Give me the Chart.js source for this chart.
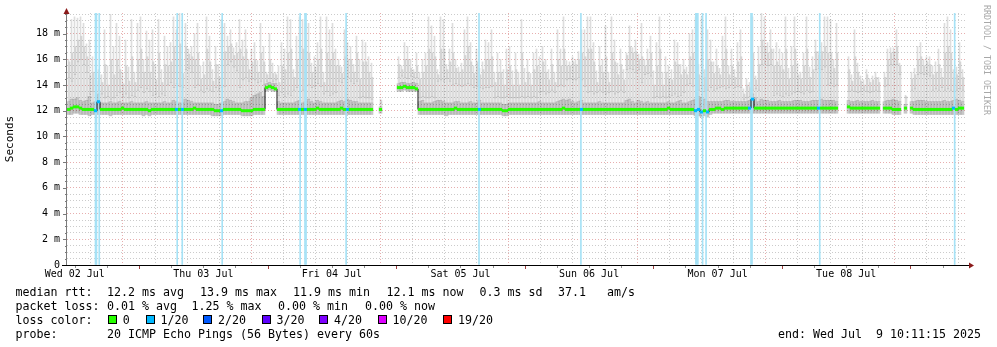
<!DOCTYPE html>
<html>
<head>
<meta charset="utf-8">
<script src="https://cdn.jsdelivr.net/npm/chart.js@4/dist/chart.umd.min.js"></script>
<style>
  html, body { margin: 0; padding: 0; background: #fff; }
  #wrap { position: relative; width: 997px; height: 347px; overflow: hidden; }
  #chart { position: absolute; left: 0; top: 0; }
  .t { position: absolute; font-family: "DejaVu Sans Mono", monospace; font-size: 11.63px;
       line-height: 14px; white-space: pre; color: #000; }
  .box { position: absolute; width: 7px; height: 7px; border: 1px solid #000; }
  #credit { position: absolute; left: 982px; top: 5px; writing-mode: vertical-rl;
            font-family: "DejaVu Sans Mono", monospace; font-size: 8.3px; line-height: 10px;
            color: #a8a8a8; white-space: pre; }
</style>
</head>
<body>
<div id="wrap">
  <canvas id="chart" width="997" height="347"></canvas>
  <div id="legend"></div>
  <div id="credit">RRDTOOL / TOBI OETIKER</div>
</div>
<script>
// ---- time axis (hours after Wed 02 Jul 00:00) ----
const dayLabels = ['Wed 02 Jul', 'Thu 03 Jul', 'Fri 04 Jul', 'Sat 05 Jul', 'Sun 06 Jul', 'Mon 07 Jul', 'Tue 08 Jul'];
const axisStartHour = 10.55;
const axisEndHour = 178.55;
const yTop = 19.6;               // ms

// ---- per-step round trip values in ms (300 consolidated steps) ----
const medianRtt = [
  12.1,12.2,12.3,12.3,12.2,12.1,12.1,12.1,12.1,12.0, 12.7,12.1,12.1,12.1,12.1,12.1,12.1,12.1,12.2,12.1, 12.1,12.1,12.1,12.1,12.1,12.1,12.1,12.0,12.1,12.1,
  12.1,12.1,12.1,12.1,12.1,12.1,12.1,12.1,12.1,12.1, 12.1,12.1,12.2,12.1,12.1,12.1,12.1,12.1,12.1,12.0, 12.0,12.0,12.1,12.1,12.1,12.1,12.1,12.1,12.0,12.0,
  12.0,12.0,12.1,12.1,12.1,12.1,13.8,13.9,13.8,13.7, 12.1,12.1,12.1,12.1,12.1,12.1,12.1,12.1,12.1,12.1, 12.1,12.1,12.1,12.2,12.1,12.1,12.1,12.1,12.1,12.1,
  12.1,12.2,12.1,12.1,12.1,12.1,12.1,12.1,12.1,12.1, 12.1,12.1,null,null,12.1,null,null,null,null,null, 13.8,13.8,13.9,13.8,13.8,13.8,13.7,12.1,12.1,12.1,
  12.1,12.1,12.1,12.1,12.1,12.1,12.1,12.1,12.1,12.2, 12.1,12.1,12.1,12.1,12.1,12.1,12.1,12.1,12.1,12.1, 12.1,12.1,12.1,12.1,12.1,12.0,12.0,12.1,12.1,12.1,
  12.1,12.1,12.1,12.1,12.1,12.1,12.1,12.1,12.1,12.1, 12.1,12.1,12.1,12.1,12.1,12.2,12.1,12.1,12.1,12.1, 12.1,12.1,12.1,12.1,12.1,12.1,12.1,12.1,12.1,12.1,
  12.1,12.1,12.1,12.1,12.1,12.1,12.1,12.1,12.1,12.1, 12.1,12.1,12.1,12.1,12.1,12.1,12.1,12.1,12.1,12.1, 12.2,12.1,12.1,12.1,12.1,12.1,12.1,12.1,12.1,12.0,
  12.1,11.9,12.0,11.9,12.1,12.1,12.2,12.2,12.1,12.2, 12.2,12.2,12.2,12.2,12.2,12.2,12.2,12.2,12.9,12.2, 12.2,12.2,12.2,12.2,12.2,12.2,12.2,12.2,12.2,12.2,
  12.2,12.2,12.2,12.2,12.2,12.2,12.2,12.2,12.2,12.2, 12.2,12.2,12.2,12.2,12.2,12.2,12.2,null,null,null, 12.3,12.2,12.2,12.2,12.2,12.2,12.2,12.2,12.2,12.2,
  12.2,null,12.2,12.2,12.2,12.1,12.1,12.1,null,12.2, null,12.2,12.1,12.1,12.1,12.1,12.1,12.1,12.1,12.1, 12.1,12.1,12.1,12.1,12.1,12.2,12.1,12.2,12.2,null
];
const minRtt = [
  11.7,11.7,11.8,11.8,11.7,11.7,11.7,11.6,11.7,11.7, 11.7,11.7,11.7,11.7,11.6,11.7,11.7,11.7,11.7,11.7, 11.7,11.7,11.7,11.7,11.7,11.6,11.7,11.6,11.7,11.7,
  11.7,11.7,11.7,11.7,11.7,11.7,11.7,11.7,11.7,11.7, 11.7,11.7,11.7,11.7,11.7,11.7,11.7,11.7,11.6,11.6, 11.6,11.6,11.7,11.7,11.7,11.7,11.7,11.7,11.6,11.6,
  11.6,11.6,11.7,11.7,11.7,11.7,13.5,13.6,13.5,13.5, 11.7,11.7,11.7,11.7,11.7,11.7,11.7,11.7,11.7,11.7, 11.7,11.7,11.7,11.7,11.7,11.7,11.7,11.7,11.7,11.7,
  11.7,11.7,11.7,11.7,11.7,11.7,11.7,11.7,11.7,11.7, 11.7,11.7,null,null,11.8,null,null,null,null,null, 13.5,13.5,13.6,13.5,13.5,13.5,13.5,11.7,11.7,11.7,
  11.7,11.7,11.7,11.7,11.7,11.7,11.6,11.7,11.7,11.7, 11.7,11.7,11.7,11.7,11.7,11.7,11.7,11.7,11.7,11.7, 11.7,11.7,11.7,11.7,11.7,11.6,11.6,11.7,11.7,11.7,
  11.7,11.7,11.7,11.7,11.7,11.7,11.7,11.7,11.7,11.7, 11.7,11.7,11.7,11.7,11.7,11.7,11.7,11.7,11.7,11.7, 11.7,11.7,11.7,11.7,11.7,11.7,11.7,11.7,11.7,11.7,
  11.7,11.7,11.7,11.7,11.7,11.7,11.7,11.7,11.7,11.7, 11.7,11.7,11.7,11.7,11.7,11.7,11.7,11.7,11.7,11.7, 11.7,11.7,11.7,11.7,11.7,11.7,11.7,11.7,11.7,11.6,
  11.6,11.5,11.6,11.5,11.7,11.8,11.8,11.8,11.8,11.8, 11.8,11.8,11.8,11.8,11.8,11.8,11.8,11.8,11.8,11.8, 11.8,11.8,11.8,11.8,11.8,11.8,11.8,11.8,11.8,11.8,
  11.8,11.8,11.8,11.8,11.8,11.8,11.8,11.8,11.8,11.8, 11.8,11.8,11.8,11.8,11.8,11.8,11.8,null,null,null, 11.8,11.8,11.8,11.8,11.8,11.8,11.8,11.8,11.8,11.8,
  11.8,null,11.8,11.8,11.8,11.7,11.7,11.7,null,11.8, null,11.8,11.7,11.7,11.7,11.7,11.7,11.7,11.7,11.7, 11.7,11.7,11.7,11.7,11.7,11.7,11.7,11.7,11.7,null
];
const innerRtt = [
  12.7,12.9,12.9,13.0,12.8,12.7,12.8,13.1,12.6,12.7, 13.3,12.6,12.6,12.6,12.7,12.6,12.6,12.7,12.6,12.6, 12.6,12.7,12.6,12.6,12.6,12.6,12.7,12.6,12.6,12.6,
  12.6,12.6,12.7,12.6,12.6,12.8,12.7,12.6,12.6,12.9, 12.8,12.7,12.6,12.6,12.6,12.6,12.6,12.6,12.6,12.5, 12.5,12.6,12.7,12.9,12.8,12.7,12.6,12.6,12.6,12.7,
  12.7,13.0,13.2,13.3,13.4,13.1,14.1,14.2,14.1,14.1, 12.7,12.6,12.6,12.6,12.6,12.6,12.7,12.8,12.6,12.7, 12.9,12.7,12.6,12.8,12.7,12.6,12.6,12.6,12.6,12.6,
  12.7,12.8,12.7,12.9,12.8,12.7,12.7,12.6,12.6,12.6, 12.6,12.6,null,null,12.3,null,null,null,null,null, 14.1,14.2,14.2,14.1,14.1,14.2,14.1,12.7,12.8,12.6,
  12.6,12.6,12.7,12.8,12.8,12.7,12.6,12.6,12.6,12.7, 12.7,12.6,12.6,12.6,12.7,12.6,12.6,12.8,12.6,12.6, 12.6,12.6,12.6,12.6,12.6,12.5,12.5,12.6,12.6,12.6,
  12.6,12.6,12.6,12.6,12.6,12.6,12.6,12.7,12.6,12.6, 12.6,12.6,12.6,12.7,12.8,12.9,12.8,12.9,12.7,12.6, 12.7,12.8,12.6,12.6,12.6,12.6,12.6,12.7,12.6,12.6,
  12.6,12.6,12.6,12.6,12.6,12.6,12.8,12.9,12.7,12.6, 12.8,12.7,12.6,12.7,12.6,12.6,12.6,12.6,12.6,12.6, 12.7,12.6,12.6,12.7,12.8,12.6,12.6,12.7,12.8,12.9,
  13.1,13.0,12.9,12.7,12.7,12.7,12.7,12.7,12.7,12.8, 12.8,12.7,12.7,12.7,12.7,12.7,12.7,12.8,13.3,13.0, 12.7,12.9,12.8,12.8,12.7,12.7,12.7,12.8,12.7,12.7,
  12.7,12.7,12.8,12.8,12.8,12.7,12.7,12.7,12.8,12.8, 12.8,12.9,12.8,12.8,12.8,12.8,12.7,null,null,null, 12.8,12.7,12.7,12.8,12.7,12.7,12.7,12.7,12.8,12.7,
  12.7,null,12.7,12.8,12.8,12.9,12.8,12.7,null,12.5, null,12.7,12.7,12.8,12.8,12.8,12.7,12.7,12.7,12.7, 12.7,12.7,12.8,12.7,12.7,12.8,12.9,12.8,12.7,null
];
const bodyRtt = [
  14.6,14.3,14.8,15.8,16.0,15.6,15.0,13.3,13.5,13.2, 13.6,13.3,13.0,13.1,12.9,13.0,13.2,13.4,13.1,13.3, 13.0,13.2,13.1,13.6,13.8,13.4,13.7,13.5,13.2,13.3,
  13.1,13.3,13.2,14.0,14.2,13.8,14.1,13.9,13.8,15.2, 15.3,15.0,13.8,14.0,13.6,13.4,13.7,13.6,13.5,13.8, 13.6,13.8,13.9,15.6,15.8,15.4,15.1,13.8,14.4,14.6,
  14.3,14.5,14.4,14.2,14.3,14.0,14.3,14.5,14.3,14.4, 13.2,13.4,13.1,13.3,13.2,13.6,13.8,13.5,13.6,13.9, 14.0,13.8,13.9,14.1,13.9,13.3,13.5,13.2,13.3,13.4,
  14.3,14.2,14.5,14.6,14.3,14.1,14.3,13.0,13.1,13.0, 13.0,12.9,null,null,12.6,null,null,null,null,null, 14.6,14.7,14.6,14.5,14.7,14.6,14.6,13.0,13.1,13.0,
  13.0,13.1,13.0,14.3,14.4,14.3,14.5,14.3,14.0,14.1, 14.0,13.9,14.0,14.1,14.0,13.8,13.9,13.8,13.7,13.8, 13.8,13.9,13.0,13.1,13.0,13.0,13.1,13.0,13.0,13.0,
  13.0,13.1,13.0,13.1,13.0,13.1,13.0,13.4,13.5,13.3, 13.4,13.6,13.4,13.9,14.0,13.9,14.4,14.5,14.4,14.4, 14.6,14.4,13.9,13.4,13.5,13.3,13.4,13.6,13.4,13.3,
  13.4,13.5,13.3,13.4,13.6,13.4,15.2,15.3,15.2,15.0, 15.2,14.2,14.8,14.9,14.7,13.0,13.1,13.0,13.1,13.0, 13.1,13.2,13.3,13.1,13.2,13.4,14.0,14.1,13.9,14.0,
  13.6,13.7,13.5,13.6,13.8,13.6,13.7,13.8,13.9,13.7, 13.8,14.0,13.8,13.9,13.8,12.9,13.0,13.1,13.6,13.7, 13.6,15.6,15.7,15.5,15.6,13.2,13.3,13.2,13.1,13.3,
  13.2,13.3,13.4,13.5,13.4,13.3,13.6,13.4,13.5,15.2, 15.3,15.2,15.4,14.0,14.1,13.9,14.0,null,null,null, 13.5,13.6,13.5,13.4,13.5,13.6,13.5,13.4,13.5,13.6,
  13.5,null,13.9,14.0,15.6,15.6,15.6,14.8,null,13.0, null,13.6,13.7,14.8,14.9,14.8,14.8,14.7,13.6,13.7, 13.6,13.8,13.6,13.7,13.6,13.5,13.6,13.7,13.6,null
];
const upperRtt = [
  15.8,16.5,17.0,17.5,17.8,17.0,16.2,14.8,15.0,14.3, 14.8,14.2,15.6,14.0,16.0,14.8,16.0,15.2,14.1,15.5, 14.3,16.2,14.2,16.0,16.8,15.0,16.2,15.0,15.8,14.4,
  16.5,14.2,15.6,15.5,15.8,17.0,16.0,17.2,14.9,17.0, 16.4,16.2,16.0,16.5,14.5,14.8,16.8,15.8,14.3,15.6, 14.6,16.5,16.6,17.0,17.2,16.3,16.5,16.8,16.2,16.8,
  15.2,15.8,16.0,15.0,16.5,15.8,14.8,16.0,14.9,14.8, 14.2,15.5,15.2,16.5,16.8,14.6,16.0,17.0,16.8,16.6, 16.5,15.0,15.4,16.0,16.8,14.2,16.5,16.0,16.5,15.5,
  15.5,14.9,16.2,16.0,16.0,15.0,16.5,14.5,15.8,15.8, 15.0,14.6,null,null,12.8,null,null,null,null,null, 15.6,15.2,16.0,16.0,15.3,15.0,15.5,14.5,15.0,15.5,
  16.8,16.5,16.2,14.8,16.8,16.8,15.2,15.8,16.5,15.3, 15.0,15.2,16.3,17.0,15.8,14.9,15.8,14.8,15.2,16.0, 16.0,16.2,14.2,15.0,15.0,14.0,15.2,15.5,14.0,15.2,
  14.0,16.5,14.2,15.0,14.0,15.2,15.5,15.0,15.8,15.0, 14.4,15.6,14.2,16.0,15.5,16.8,15.5,15.5,15.8,15.6, 16.0,16.5,16.2,16.8,16.8,15.8,14.2,15.5,15.0,16.2,
  14.2,16.5,15.8,14.8,15.6,14.4,16.3,17.0,16.5,16.6, 16.0,16.2,15.5,16.0,16.5,14.0,15.5,16.8,14.0,15.0, 14.5,14.4,15.8,15.6,14.8,15.2,14.8,16.2,16.5,17.0,
  14.8,16.5,14.6,16.0,15.8,14.9,15.5,14.8,16.0,16.8, 14.8,15.5,14.6,15.8,16.2,13.3,14.0,13.8,16.5,14.4, 15.6,17.5,17.0,16.5,16.8,15.5,15.8,15.5,15.2,16.8,
  14.5,15.5,16.8,14.8,14.5,15.5,16.8,14.6,15.2,16.6, 16.3,16.6,17.0,16.5,16.5,15.3,16.5,null,null,null, 15.2,14.3,16.2,15.0,14.3,14.0,14.8,14.2,14.4,14.6,
  14.2,null,14.6,16.0,16.5,16.6,17.0,15.5,null,13.1, null,14.5,14.8,16.0,16.2,15.5,15.8,15.6,14.8,15.0, 15.6,14.6,16.5,17.0,16.5,14.6,14.8,15.8,14.6,null
];
const maxRtt = [
  16.0,19.1,19.3,19.2,19.3,18.8,17.2,17.5,16.2,15.0, 15.2,14.8,18.3,15.5,19.5,17.0,18.8,17.8,15.0,17.5, 15.4,19.1,15.0,18.8,19.3,16.0,18.2,17.5,18.3,15.6,
  19.1,15.2,17.8,17.0,17.3,19.3,18.3,19.6,16.0,18.8, 16.8,17.0,18.0,18.8,15.5,15.8,19.3,17.8,15.2,17.0, 15.6,19.1,18.8,17.8,18.3,16.9,17.3,19.1,17.5,18.3,
  16.0,16.8,17.3,15.9,18.8,17.0,15.0,18.0,15.7,15.0, 15.5,17.3,16.8,19.3,19.1,15.2,17.8,19.3,19.1,18.8, 18.8,15.7,16.2,17.3,19.3,15.0,19.3,18.3,18.8,16.8,
  16.0,15.4,18.3,17.3,17.0,15.6,17.8,16.0,17.5,17.3, 16.2,15.7,null,null,12.9,null,null,null,null,null, 16.2,15.5,17.3,17.0,16.0,15.2,16.5,15.0,16.0,16.5,
  19.3,18.6,17.8,15.2,19.3,19.1,15.6,16.8,18.8,16.0, 15.4,15.7,18.3,19.3,17.3,15.5,16.8,15.3,15.8,17.5, 17.3,18.3,15.0,16.5,16.0,15.2,16.8,17.0,15.1,16.5,
  15.0,19.1,15.3,16.0,14.9,16.5,16.8,16.2,17.0,16.0, 15.2,16.8,15.0,18.3,16.8,19.3,15.9,15.8,16.2,16.0, 16.6,18.3,18.3,19.3,19.3,17.3,15.1,17.0,16.0,18.6,
  15.0,19.3,17.5,15.7,16.8,15.2,16.5,18.6,16.9,17.5, 16.4,18.8,16.0,16.8,17.8,15.1,17.3,19.3,15.0,16.2, 15.5,15.2,17.5,17.3,15.6,16.0,15.4,18.0,18.3,19.3,
  15.6,19.3,15.2,18.3,17.5,15.8,16.8,15.3,17.8,19.3, 15.5,16.8,15.2,17.3,18.3,13.7,14.5,14.2,19.3,14.7, 17.0,19.6,19.3,17.3,18.3,16.8,17.3,16.8,16.5,19.3,
  15.3,17.0,19.3,15.7,15.0,16.5,19.3,15.4,16.2,17.5, 16.6,17.3,19.3,19.3,19.1,16.0,18.8,null,null,null, 16.2,14.8,18.3,15.7,14.7,14.4,15.2,14.5,14.7,15.0,
  14.6,null,15.0,16.8,16.9,16.9,18.3,15.7,null,13.2, null,15.0,15.3,17.0,17.3,16.0,16.2,16.2,15.5,15.8, 16.8,15.3,18.8,19.3,18.3,15.2,15.4,17.3,15.2,null
];

// ---- steps with 1/20 packet loss (hours after Wed 02 Jul 00:00) ----
const lossTimes = [15.87, 16.05, 16.57, 31.12, 32.06, 39.52, 54.07, 54.98, 55.17, 62.65, 87.46,
                   106.48, 127.94, 128.12, 128.31, 129.19, 129.84, 138.23, 138.42, 151.06, 176.25];

// ---- legend texts ----
const lossLevels = ['0', '1/20', '2/20', '3/20', '4/20', '10/20', '19/20'];
const lossColors = ['#26ff00', '#00b8ff', '#0059ff', '#5e00ff', '#7e00ff', '#dd00ff', '#ff0000'];
const rttStats = ['12.2 ms avg', '13.9 ms max', '11.9 ms min', '12.1 ms now', '0.3 ms sd', '37.1   am/s'];
const lossStats = ['0.01 % avg', '1.25 % max', '0.00 % min', '0.00 % now'];
const probeText = '20 ICMP Echo Pings (56 Bytes) every 60s';
const endText = 'end: Wed Jul  9 10:11:15 2025';

// ---- build chart data ----
const stepCount = medianRtt.length;
const stepHours = (axisEndHour - axisStartHour) / stepCount;
const stepTime = (i, shift = 0) => axisStartHour + (i + 0.5 + shift) * stepHours;
const lossSteps = new Set(lossTimes.map(h => Math.floor((h - axisStartHour) / stepHours)));

// floating [lo, hi] bars for one smoke layer, optionally shifted inside the step
function band(lo, hi, shift = 0) {
  const out = [];
  for (let i = 0; i < stepCount; i++) {
    if (lo[i] == null || hi[i] == null) continue;
    out.push({ x: stepTime(i, shift), y: [lo[i], hi[i]] });
  }
  return out;
}
const medianPoints = medianRtt.map((v, i) => ({ x: stepTime(i), y: v }));

const smokeDark = 'rgba(0,0,0,0.22)';
const smokeLight = 'rgba(0,0,0,0.135)';
const barBase = { type: 'bar', grouped: false, borderWidth: 0, order: 10 };

const datasets = [
  { ...barBase, data: band(minRtt, innerRtt), backgroundColor: smokeDark, barThickness: 3 },
  { ...barBase, data: band(innerRtt, bodyRtt, 1 / 6), backgroundColor: smokeLight, barThickness: 2 },
  { ...barBase, data: band(bodyRtt, maxRtt), backgroundColor: smokeLight, barThickness: 1 },
  { ...barBase, data: band(bodyRtt, upperRtt, 1 / 3), backgroundColor: smokeLight, barThickness: 1 },
  { ...barBase, data: lossTimes.map(h => ({ x: h, y: [0, yTop] })), backgroundColor: '#a6e2f6',
    barThickness: 1, order: 5 },
  { type: 'line', data: medianPoints, borderColor: '#101010', borderWidth: 1, stepped: 'middle',
    pointRadius: 0, spanGaps: false, order: 2 },
  { type: 'line', data: medianPoints, showLine: false, pointStyle: 'line', pointRadius: 1.6,
    pointBorderWidth: 3, order: 1,
    pointBorderColor: c => lossSteps.has(c.dataIndex) ? lossColors[1] : lossColors[0] }
];

// ---- axes, ticks and arrows ----
const axisPlugin = {
  id: 'rrdAxes',
  afterDatasetsDraw(chart) {
    const { ctx, chartArea: a, scales } = chart;
    ctx.save();
    ctx.fillStyle = '#7a7a7a';
    scales.y.ticks.forEach(t => {
      const py = Math.round(scales.y.getPixelForValue(t.value));
      const major = Math.abs(t.value % 2) < 1e-6;
      ctx.fillRect(a.left - (major ? 4 : 2), py, major ? 4 : 2, 1);
    });
    ctx.fillRect(a.left - 1, a.top - 3, 1, a.bottom - a.top + 3);
    ctx.fillStyle = '#000';
    ctx.fillRect(a.left - 5, a.bottom, a.right - a.left + 8, 1);
    scales.x.ticks.forEach(t => {
      const px = Math.round(scales.x.getPixelForValue(t.value));
      const major = t.value % 24 === 0;
      ctx.fillStyle = major ? '#a04040' : '#909090';
      ctx.fillRect(px, a.bottom + 1, 1, major ? 3 : 2);
    });
    ctx.fillStyle = '#8b1a1a';
    ctx.beginPath();
    ctx.moveTo(a.left - 0.5, a.top - 5);
    ctx.lineTo(a.left - 3.5, a.top + 1);
    ctx.lineTo(a.left + 2.5, a.top + 1);
    ctx.closePath(); ctx.fill();
    ctx.beginPath();
    ctx.moveTo(a.right + 7, a.bottom + 0.5);
    ctx.lineTo(a.right + 2, a.bottom - 2.5);
    ctx.lineTo(a.right + 2, a.bottom + 3.5);
    ctx.closePath(); ctx.fill();
    ctx.restore();
  }
};

const gridGray = 'rgba(160,160,160,0.55)';
const gridRed = 'rgba(215,120,120,0.6)';
const monoFont = '"DejaVu Sans Mono", monospace';

new Chart(document.getElementById('chart'), {
  type: 'bar',
  data: { datasets },
  options: {
    responsive: false,
    animation: false,
    devicePixelRatio: 1,
    layout: { padding: { left: 0, right: 30, top: 11, bottom: 62 } },
    plugins: { legend: { display: false }, tooltip: { enabled: false } },
    scales: {
      x: {
        type: 'linear', min: axisStartHour, max: axisEndHour, offset: false,
        afterBuildTicks: s => {
          const ticks = [];
          for (let h = Math.ceil(axisStartHour / 6) * 6; h < axisEndHour; h += 6) ticks.push({ value: h });
          s.ticks = ticks;
        },
        afterFit: s => { s.height = 20; },
        grid: { color: c => (c.tick && c.tick.value % 24 === 0) ? gridRed : gridGray,
                lineWidth: 1, drawTicks: false, z: 0 },
        border: { display: false, dash: [1, 2] },
        ticks: {
          autoSkip: false, maxRotation: 0, padding: 3, color: '#000',
          font: { family: monoFont, size: 10 },
          callback: v => (v % 24 === 12) ? dayLabels[(v - 12) / 24] : ''
        }
      },
      y: {
        type: 'linear', min: 0, max: yTop,
        afterBuildTicks: s => {
          const ticks = [];
          for (let k = 0; k <= 39; k++) ticks.push({ value: k * 0.5 });
          s.ticks = ticks;
        },
        afterFit: s => { s.width = 67; },
        grid: { color: c => (!c.tick || c.tick.value === 0) ? 'rgba(0,0,0,0)'
                  : (c.tick.value % 2 === 0 ? gridRed : gridGray),
                lineWidth: 1, drawTicks: false, z: 0 },
        border: { display: false, dash: [1, 2] },
        title: { display: true, text: 'Seconds', color: '#000', font: { family: monoFont, size: 11 },
                 padding: { top: 4, bottom: 0 } },
        ticks: {
          autoSkip: false, padding: 7, color: '#000', font: { family: monoFont, size: 10 },
          callback: v => (v % 2 === 0) ? (v === 0 ? '0' : v + ' m') : ''
        }
      }
    }
  },
  plugins: [axisPlugin]
});

// ---- text legend below the graph ----
const legend = document.getElementById('legend');
function put(text, x, y) {
  const d = document.createElement('div');
  d.className = 't'; d.textContent = text;
  d.style.left = x + 'px'; d.style.top = y + 'px';
  legend.appendChild(d);
}
const rowTop = [285, 298.6, 312.5, 326.5];
put('median rtt:', 15.5, rowTop[0]);
[107, 200, 293, 386.5, 479.5, 558].forEach((x, i) => put(rttStats[i], x, rowTop[0]));
put('packet loss:', 15.5, rowTop[1]);
[107, 191.5, 278, 365].forEach((x, i) => put(lossStats[i], x, rowTop[1]));
put('loss color:', 15.5, rowTop[2]);
[108, 145.7, 203.3, 261.7, 319.3, 377.7, 443.3].forEach((x, i) => {
  const b = document.createElement('div');
  b.className = 'box'; b.style.background = lossColors[i];
  b.style.left = x + 'px'; b.style.top = (rowTop[2] + 2.5) + 'px';
  legend.appendChild(b);
  put(lossLevels[i], x + 14.8, rowTop[2]);
});
put('probe:', 15.5, rowTop[3]);
put(probeText, 107, rowTop[3]);
put(endText, 778, rowTop[3]);
</script>
</body>
</html>
